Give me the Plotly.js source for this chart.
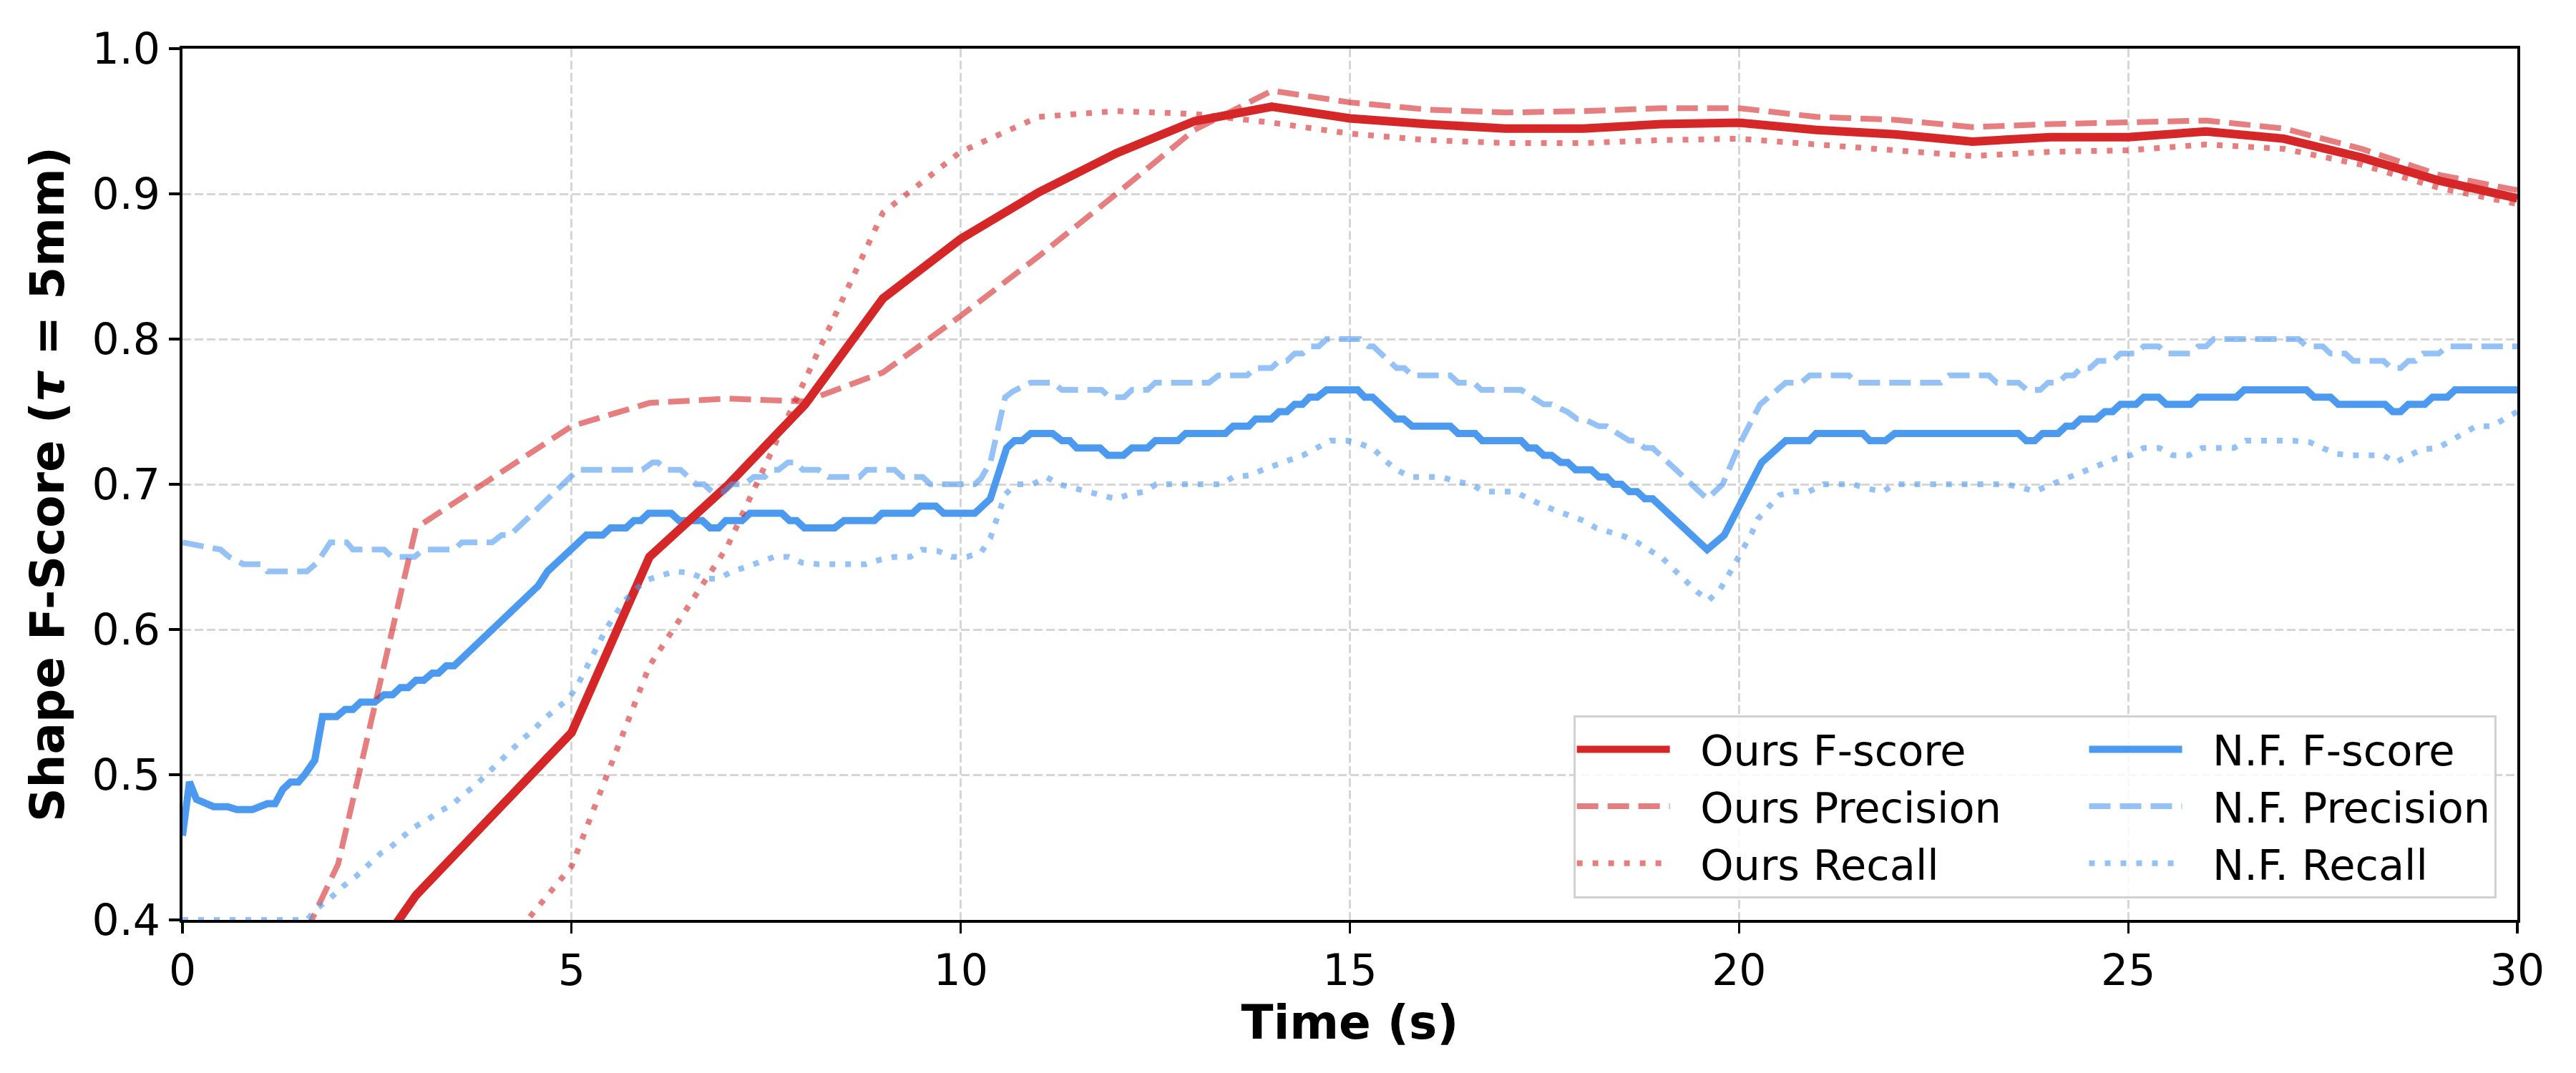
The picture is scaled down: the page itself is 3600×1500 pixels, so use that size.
<!DOCTYPE html>
<html>
<head>
<meta charset="utf-8">
<script src="https://cdn.plot.ly/plotly-3.0.1.min.js"></script>
<style>html,body{margin:0;padding:0;background:#fff;}#chart{width:3600px;height:1500px;}</style>
</head>
<body>
<div id="chart"></div>
<script>
// ---- Data ----
const oursTime = [0,1,2,3,4,5,6,7,8,9,10,11,12,13,14,15,16,17,18,19,20,21,22,23,24,25,26,27,28,29,30];
const oursFscore = [0.20,0.27,0.34,0.417,0.472,0.529,0.650,0.699,0.755,0.828,0.869,0.901,0.928,0.950,0.960,0.952,0.948,0.945,0.945,0.948,0.949,0.944,0.941,0.936,0.939,0.939,0.943,0.938,0.925,0.909,0.897];
const oursPrecision = [0.22,0.325,0.4385,0.670,0.705,0.740,0.756,0.759,0.757,0.777,0.816,0.857,0.900,0.944,0.971,0.963,0.958,0.956,0.957,0.959,0.959,0.953,0.951,0.946,0.948,0.949,0.9505,0.945,0.931,0.913,0.9025];
const oursRecall = [0.20,0.24,0.28,0.33,0.372,0.437,0.575,0.657,0.773,0.887,0.929,0.953,0.957,0.955,0.949,0.9415,0.937,0.935,0.935,0.937,0.938,0.934,0.930,0.926,0.929,0.930,0.934,0.931,0.920,0.904,0.893];

const nfFscoreTime = [0.0,0.09,0.18,0.40,0.58,0.70,0.90,1.09,1.19,1.29,1.39,1.49,1.57,1.70,1.80,1.98,2.09,2.19,2.29,2.47,2.59,2.70,2.80,2.90,3.00,3.10,3.21,3.29,3.39,3.49,4.57,4.69,5.19,5.40,5.50,5.70,5.80,5.89,5.99,6.28,6.38,6.68,6.78,6.89,6.98,7.19,7.29,7.70,7.80,7.89,7.99,8.38,8.50,8.89,8.99,9.38,9.48,9.68,9.78,10.18,10.38,10.59,10.69,10.79,10.90,11.18,11.30,11.40,11.49,11.79,11.89,12.09,12.20,12.40,12.50,12.79,12.89,13.40,13.50,13.70,13.79,13.99,14.09,14.19,14.29,14.39,14.48,14.58,14.70,15.10,15.19,15.29,15.59,15.69,15.80,16.29,16.39,16.61,16.70,17.20,17.29,17.39,17.49,17.59,17.71,17.80,17.90,18.10,18.20,18.30,18.39,18.49,18.59,18.69,18.79,18.89,19.59,19.81,20.29,20.60,20.90,20.99,21.59,21.68,21.88,22.00,23.59,23.69,23.80,23.90,24.10,24.20,24.29,24.39,24.59,24.70,24.80,24.90,25.10,25.20,25.39,25.49,25.80,25.90,26.39,26.49,27.29,27.39,27.60,27.70,28.30,28.40,28.50,28.60,28.81,28.91,29.10,29.20,30.0];
const nfFscore = [0.458,0.495,0.483,0.478,0.478,0.476,0.476,0.48,0.48,0.49,0.495,0.495,0.50,0.51,0.54,0.54,0.545,0.545,0.55,0.55,0.555,0.555,0.56,0.56,0.565,0.565,0.57,0.57,0.575,0.575,0.63,0.64,0.665,0.665,0.67,0.67,0.675,0.675,0.68,0.68,0.675,0.675,0.67,0.67,0.675,0.675,0.68,0.68,0.675,0.675,0.67,0.67,0.675,0.675,0.68,0.68,0.685,0.685,0.68,0.68,0.69,0.725,0.73,0.73,0.735,0.735,0.73,0.73,0.725,0.725,0.72,0.72,0.725,0.725,0.73,0.73,0.735,0.735,0.74,0.74,0.745,0.745,0.75,0.75,0.755,0.755,0.76,0.76,0.765,0.765,0.76,0.76,0.745,0.745,0.74,0.74,0.735,0.735,0.73,0.73,0.725,0.725,0.72,0.72,0.715,0.715,0.71,0.71,0.705,0.705,0.70,0.70,0.695,0.695,0.69,0.69,0.655,0.665,0.715,0.73,0.73,0.735,0.735,0.73,0.73,0.735,0.735,0.73,0.73,0.735,0.735,0.74,0.74,0.745,0.745,0.75,0.75,0.755,0.755,0.76,0.76,0.755,0.755,0.76,0.76,0.765,0.765,0.76,0.76,0.755,0.755,0.75,0.75,0.755,0.755,0.76,0.76,0.765,0.765];

const nfPrecisionTime = [0.0,0.17,0.49,0.60,0.78,1.01,1.09,1.60,1.73,1.90,2.11,2.19,2.59,2.69,2.98,3.10,3.49,3.59,3.98,4.10,4.21,5.08,5.91,6.04,6.11,6.21,6.40,6.50,6.60,6.70,6.80,6.96,7.06,7.22,7.34,7.48,7.58,7.66,7.78,7.88,7.97,8.17,8.30,8.70,8.79,9.15,9.25,9.51,9.61,10.18,10.26,10.38,10.57,10.67,10.90,11.18,11.30,11.81,11.91,12.10,12.20,12.40,12.50,13.19,13.31,13.68,13.78,13.99,14.09,14.19,14.29,14.39,14.50,14.60,14.70,15.13,15.24,15.30,15.60,15.70,15.80,16.29,16.39,16.59,16.69,17.20,17.49,17.59,17.79,17.92,18.00,18.20,18.30,18.44,18.59,18.66,18.79,18.89,19.59,19.79,20.01,20.27,20.60,20.80,20.91,21.41,21.50,22.59,22.70,23.21,23.31,23.59,23.70,23.87,23.97,24.10,24.20,24.30,24.39,24.51,24.61,24.80,24.90,25.10,25.20,25.39,25.49,25.80,25.90,26.00,26.10,27.19,27.29,27.50,27.60,27.79,27.89,28.28,28.38,28.50,28.60,28.69,28.79,28.99,29.10,30.0];
const nfPrecision = [0.66,0.658,0.655,0.65,0.645,0.645,0.64,0.64,0.646,0.66,0.66,0.655,0.655,0.65,0.65,0.655,0.655,0.66,0.66,0.665,0.665,0.71,0.71,0.715,0.715,0.71,0.71,0.705,0.70,0.70,0.695,0.695,0.70,0.70,0.705,0.705,0.71,0.71,0.715,0.715,0.71,0.71,0.705,0.705,0.71,0.71,0.705,0.705,0.70,0.70,0.704,0.715,0.76,0.764,0.77,0.77,0.765,0.765,0.76,0.76,0.765,0.765,0.77,0.77,0.775,0.775,0.78,0.78,0.785,0.785,0.79,0.79,0.795,0.795,0.80,0.80,0.795,0.795,0.78,0.78,0.775,0.775,0.77,0.77,0.765,0.765,0.755,0.755,0.75,0.745,0.745,0.74,0.74,0.735,0.73,0.73,0.725,0.725,0.69,0.70,0.728,0.755,0.77,0.77,0.775,0.775,0.77,0.77,0.775,0.775,0.77,0.77,0.765,0.765,0.77,0.77,0.775,0.775,0.78,0.78,0.785,0.785,0.79,0.79,0.795,0.795,0.79,0.79,0.795,0.795,0.80,0.80,0.795,0.795,0.79,0.79,0.785,0.785,0.78,0.78,0.785,0.785,0.79,0.79,0.795,0.795];

const nfRecallTime = [0.0,1.60,1.73,1.90,2.06,2.23,2.39,2.55,2.67,2.82,2.98,3.15,3.31,3.46,3.60,3.77,3.90,4.06,4.21,4.36,4.51,4.66,4.82,4.97,5.08,5.26,5.45,5.67,5.81,5.96,6.14,6.32,6.52,6.70,6.89,7.06,7.24,7.42,7.60,7.79,7.96,8.17,8.78,8.96,9.15,9.35,9.50,9.71,9.88,10.08,10.26,10.38,10.44,10.51,10.57,10.71,10.92,11.10,11.26,11.45,11.63,11.82,11.99,12.17,12.37,12.51,13.35,13.50,13.70,13.88,14.06,14.24,14.40,14.58,14.75,14.96,15.13,15.31,15.46,15.60,15.78,16.18,16.36,16.56,16.72,17.11,17.29,17.46,17.64,17.82,18.00,18.16,18.34,18.53,18.69,18.85,19.02,19.17,19.31,19.46,19.61,19.76,19.87,19.97,20.06,20.16,20.24,20.37,20.52,20.70,20.90,21.08,21.47,21.65,21.85,22.00,23.42,23.62,23.80,23.97,24.15,24.33,24.51,24.67,24.85,25.03,25.20,25.40,25.57,25.78,25.95,26.36,26.51,27.12,27.33,27.50,27.67,27.85,28.28,28.43,28.60,28.77,28.98,29.15,29.30,29.47,29.67,29.84,30.0];
const nfRecall = [0.40,0.40,0.408,0.415,0.423,0.43,0.438,0.446,0.45,0.457,0.464,0.469,0.475,0.479,0.486,0.493,0.50,0.508,0.516,0.524,0.531,0.539,0.546,0.553,0.562,0.582,0.601,0.619,0.627,0.634,0.637,0.640,0.639,0.635,0.635,0.64,0.643,0.646,0.65,0.65,0.646,0.645,0.645,0.648,0.65,0.65,0.655,0.654,0.65,0.65,0.653,0.663,0.673,0.6835,0.693,0.70,0.70,0.705,0.70,0.6975,0.695,0.693,0.69,0.693,0.695,0.70,0.70,0.705,0.706,0.71,0.713,0.717,0.72,0.725,0.73,0.73,0.728,0.724,0.716,0.71,0.705,0.705,0.702,0.70,0.695,0.695,0.69,0.686,0.682,0.679,0.675,0.67,0.667,0.664,0.66,0.655,0.649,0.641,0.634,0.626,0.62,0.628,0.638,0.647,0.657,0.666,0.676,0.684,0.6926,0.695,0.695,0.70,0.70,0.697,0.695,0.70,0.70,0.698,0.695,0.699,0.703,0.707,0.71,0.714,0.718,0.72,0.725,0.725,0.72,0.72,0.725,0.725,0.73,0.73,0.729,0.725,0.721,0.72,0.72,0.715,0.72,0.724,0.725,0.73,0.735,0.74,0.74,0.745,0.75];

const xTicks = [0,5,10,15,20,25,30];
const yTicks = [0.4,0.5,0.6,0.7,0.8,0.9,1.0];
const seriesNames = ['Ours F-score','Ours Precision','Ours Recall','N.F. F-score','N.F. Precision','N.F. Recall'];

// ---- Styles ----
const RED = '#d62728';
const RED_A = 'rgba(214,39,40,0.6)';
const BLUE = '#4c9af0';
const BLUE_A = 'rgba(76,154,240,0.6)';
const DASH = '30px,13px';
const DOT = '8px,14px';
const FONT = 'DejaVu Sans, Liberation Sans, sans-serif';
const NB = '\u00a0';
const lead = NB + NB;
const trail = NB.repeat(6);

function tr(x, y, name, color, width, dash, group, rank) {
  return {x: x, y: y, name: name, type: 'scatter', mode: 'lines',
          line: {color: color, width: width, dash: dash},
          legendgroup: group, legendrank: rank, hoverinfo: 'skip'};
}

const traces = [
  tr(nfFscoreTime, nfFscore, lead + seriesNames[3], BLUE, 10, 'solid', 'nf', 4),
  tr(oursTime, oursFscore, lead + seriesNames[0] + trail, RED, 12, 'solid', 'ours', 1),
  tr(oursTime, oursPrecision, lead + seriesNames[1] + trail, RED_A, 8, DASH, 'ours', 2),
  tr(nfPrecisionTime, nfPrecision, lead + seriesNames[4], BLUE_A, 8, DASH, 'nf', 5),
  tr(oursTime, oursRecall, lead + seriesNames[2] + trail, RED_A, 8, DOT, 'ours', 3),
  tr(nfRecallTime, nfRecall, lead + seriesNames[5], BLUE_A, 8, DOT, 'nf', 6)
];

const axisCommon = {
  showline: true, linecolor: '#000', linewidth: 4, mirror: true,
  ticks: 'outside', ticklen: 15, tickwidth: 3.3, tickcolor: '#000',
  showgrid: true, gridcolor: '#d6d6d6', gridwidth: 3, griddash: '12px,5px',
  zeroline: false,
  tickfont: {family: FONT, size: 60, color: '#000'}
};

const layout = {
  width: 3600, height: 1500,
  paper_bgcolor: '#fff', plot_bgcolor: '#fff',
  margin: {l: 255, r: 82, t: 68, b: 214, pad: 0},
  showlegend: true,
  xaxis: Object.assign({}, axisCommon, {
    range: [0, 30], tickvals: xTicks, ticktext: xTicks.map(String),
    title: {text: '<b>Time (s)</b>', font: {family: FONT, size: 66, color: '#000'}, standoff: 16}
  }),
  yaxis: Object.assign({}, axisCommon, {
    range: [0.4, 1.0], tickvals: yTicks, ticktext: yTicks.map(v => v.toFixed(1)),
    title: {text: '<b>Shape F-Score (<i>τ</i> = 5mm)</b>', font: {family: FONT, size: 66, color: '#000'}, standoff: 18}
  }),
  legend: {
    orientation: 'h', traceorder: 'grouped',
    x: 0.991, xanchor: 'right', y: 0.025, yanchor: 'bottom',
    bgcolor: 'rgba(255,255,255,0.85)', bordercolor: '#d0d0d0', borderwidth: 3,
    font: {family: FONT, size: 59, color: '#000'},
    itemwidth: 130, tracegroupgap: 40
  }
};

Plotly.newPlot('chart', traces, layout, {staticPlot: true, displayModeBar: false});
</script>
</body>
</html>
